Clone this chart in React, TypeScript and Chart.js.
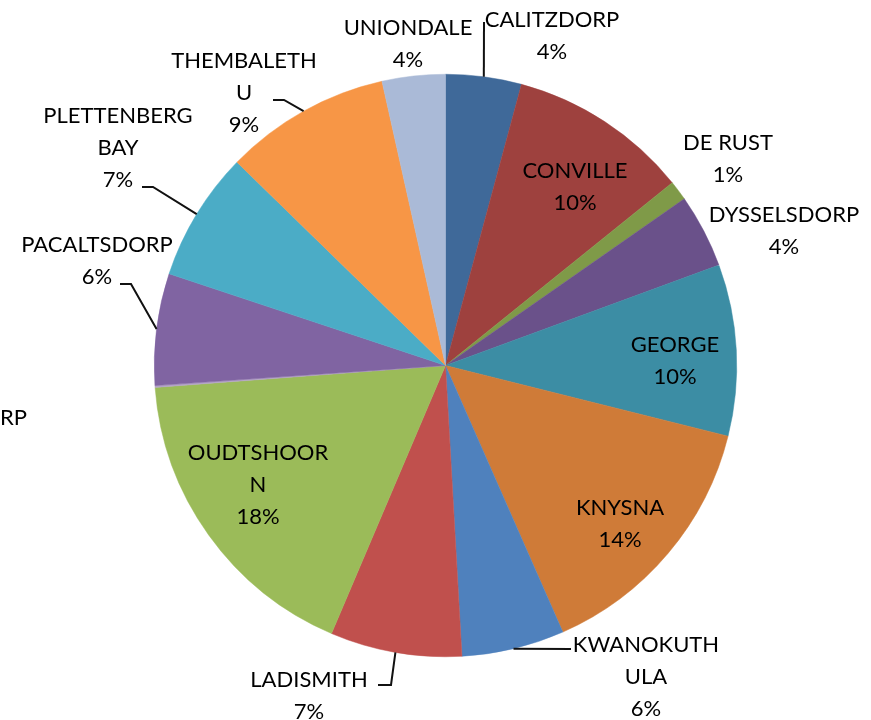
import React, { useEffect, useRef } from "react";
import { Chart, registerables } from "chart.js";

Chart.register(...registerables);

const categories = [
  "CALITZDORP",
  "CONVILLE",
  "DE RUST",
  "DYSSELSDORP",
  "GEORGE",
  "KNYSNA",
  "KWANOKUTHULA",
  "LADISMITH",
  "OUDTSHOORN",
  "VANWYKSDORP",
  "PACALTSDORP",
  "PLETTENBERG BAY",
  "THEMBALETHU",
  "UNIONDALE",
];

const shares = [4.2, 10.0, 1.1, 4.1, 9.5, 14.5, 5.7, 7.3, 17.4, 0.1, 6.2, 7.2, 9.2, 3.5];

const percentLabels = ["4%", "10%", "1%", "4%", "10%", "14%", "6%", "7%", "18%", "0%", "6%", "7%", "9%", "4%"];

const sliceColors = [
  "#3F6999",
  "#9E413E",
  "#7F9A48",
  "#6A518A",
  "#3C8DA4",
  "#CF7B38",
  "#4F81BD",
  "#C0504D",
  "#9BBB59",
  "#B3A2C7",
  "#8064A2",
  "#4BACC6",
  "#F79646",
  "#AABAD7",
];

type LabelPlace = {
  x: number;
  y: number;
  breakAt?: number;
  leader?: number[][];
};

// text anchor (center x, first baseline y), where to wrap, and leader elbow points
const labelPlaces: LabelPlace[] = [
  { x: 552, y: 27, leader: [[484, 22]] },
  { x: 575, y: 178 },
  { x: 728, y: 150 },
  { x: 784, y: 222 },
  { x: 675, y: 352 },
  { x: 620, y: 515 },
  { x: 646, y: 652, breakAt: 9, leader: [[571, 649]] },
  { x: 309, y: 687, leader: [[378, 685], [391, 685]] },
  { x: 258, y: 460, breakAt: 9 },
  { x: -58, y: 425 },
  { x: 97, y: 252, leader: [[120, 284], [131, 284]] },
  { x: 118, y: 123, breakAt: 11, leader: [[142, 187], [153, 187]] },
  { x: 244, y: 68, breakAt: 10, leader: [[273, 100], [284, 100]] },
  { x: 408, y: 35 },
];

const FONT = "22px Lato";
const LINE_H = 32;

function splitLabel(name: string, breakAt?: number): string[] {
  if (breakAt === undefined) return [name];
  return [name.slice(0, breakAt).trim(), name.slice(breakAt).trim()];
}

const labelPlugin = {
  id: "sliceLabels",
  afterDatasetsDraw(chart: any) {
    const ctx = chart.ctx as CanvasRenderingContext2D;
    const meta = chart.getDatasetMeta(0);
    ctx.save();
    meta.data.forEach((arc: any, i: number) => {
      const place = labelPlaces[i];
      const p = arc.getProps(["x", "y", "startAngle", "endAngle", "outerRadius"], true);
      const mid = (p.startAngle + p.endAngle) / 2;
      const ax = p.x + Math.cos(mid) * p.outerRadius;
      const ay = p.y + Math.sin(mid) * p.outerRadius;
      if (place.leader) {
        ctx.beginPath();
        ctx.strokeStyle = "#111111";
        ctx.lineWidth = 2;
        ctx.moveTo(place.leader[0][0], place.leader[0][1]);
        for (let k = 1; k < place.leader.length; k++) ctx.lineTo(place.leader[k][0], place.leader[k][1]);
        ctx.lineTo(ax, ay);
        ctx.stroke();
      }
      const lines = [...splitLabel(categories[i], place.breakAt), percentLabels[i]];
      ctx.font = FONT;
      ctx.fillStyle = "#000000";
      ctx.textAlign = "center";
      ctx.textBaseline = "alphabetic";
      lines.forEach((t, k) => ctx.fillText(t, place.x, place.y + k * LINE_H));
    });
    ctx.restore();
  },
};

export default function App() {
  const ref = useRef<HTMLCanvasElement>(null);
  useEffect(() => {
    if (!ref.current) return;
    const chart = new Chart(ref.current, {
      type: "pie",
      data: {
        labels: categories,
        datasets: [
          {
            data: shares,
            backgroundColor: sliceColors,
            borderColor: sliceColors,
            borderWidth: 0.5,
          },
        ],
      },
      options: {
        responsive: false,
        animation: false,
        devicePixelRatio: 1,
        layout: { padding: { left: 154, right: 134, top: 74, bottom: 63 } },
        plugins: { legend: { display: false }, tooltip: { enabled: false } },
      },
      plugins: [labelPlugin],
    });
    return () => chart.destroy();
  }, []);
  return (
    <div style={{ position: "absolute", left: 0, top: 0, width: 871, height: 720, background: "#fff" }}>
      <canvas ref={ref} width={871} height={720} />
    </div>
  );
}
